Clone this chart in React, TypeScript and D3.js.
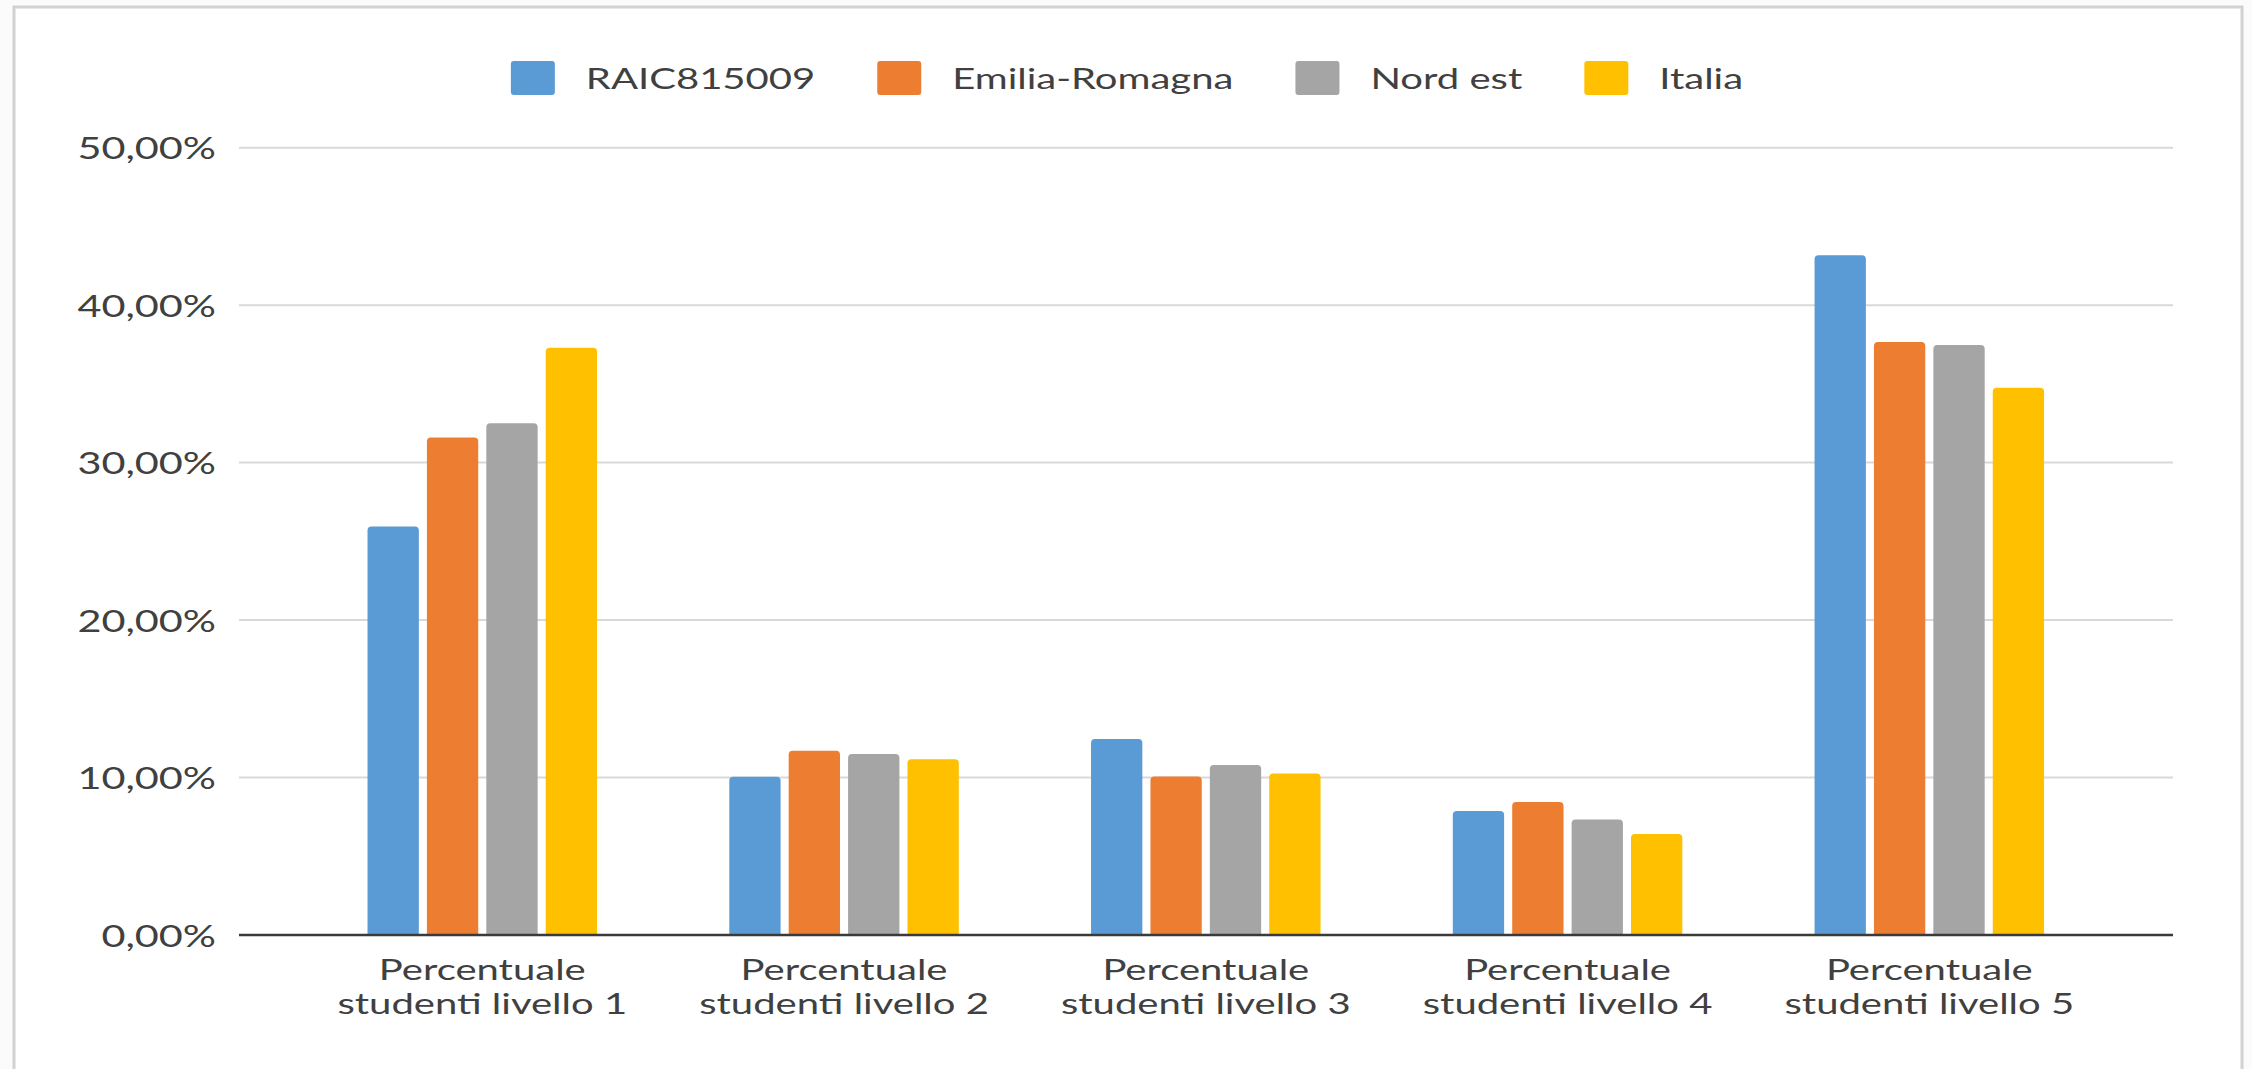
import React, { useEffect, useRef } from "react";
import * as d3 from "d3";

const categories = [
  "Percentuale studenti livello 1",
  "Percentuale studenti livello 2",
  "Percentuale studenti livello 3",
  "Percentuale studenti livello 4",
  "Percentuale studenti livello 5",
];
const seriesNames = ["RAIC815009", "Emilia-Romagna", "Nord est", "Italia"];
const raic = [0.2595, 0.1005, 0.1245, 0.0787, 0.4317];
const emiliaRomagna = [0.316, 0.117, 0.1007, 0.0845, 0.3766];
const nordEst = [0.325, 0.115, 0.108, 0.0733, 0.3747];
const italia = [0.373, 0.1116, 0.1026, 0.0642, 0.3476];
const seriesValues = [raic, emiliaRomagna, nordEst, italia];
const yTicks = [0, 0.1, 0.2, 0.3, 0.4, 0.5];
const colors = ["#5B9BD5", "#ED7D31", "#A5A5A5", "#FFC000"];

const W = 2252;
const H = 1069;
const SX = 1.38; // horizontal stretch of the text in the reference
const FONT = "Lato, 'Open Sans', sans-serif";
const TEXT = "#404040";

function topRoundedRect(x: number, y: number, w: number, h: number, r: number) {
  const rr = Math.min(r, h, w / 2);
  return `M${x},${y + h}V${y + rr}Q${x},${y} ${x + rr},${y}H${x + w - rr}Q${x + w},${y} ${x + w},${y + rr}V${y + h}Z`;
}

export default function App() {
  const ref = useRef<SVGSVGElement | null>(null);

  useEffect(() => {
    document.body.style.margin = "0";
    const svg = d3.select(ref.current);
    svg.selectAll("*").remove();

    const locale = d3.formatLocale({
      decimal: ",",
      thousands: ".",
      grouping: [3],
      currency: ["€", ""],
    });
    const fmt = locale.format(".2%");

    const plotLeft = 239;
    const plotRight = 2173;
    const y = d3.scaleLinear().domain([0, 0.5]).range([935, 147.7]);
    const x0 = d3.scaleBand<string>().domain(categories).range([301.4, 2110.2]).padding(0);
    const groupW = 237.6;
    const x1 = d3
      .scaleBand<string>()
      .domain(seriesNames)
      .range([-groupW / 2, groupW / 2])
      .paddingInner(0.136)
      .paddingOuter(0.068);

    // frame
    svg
      .append("rect")
      .attr("x", 0)
      .attr("y", 0)
      .attr("width", W)
      .attr("height", H)
      .attr("fill", "#fbfbfb");
    svg
      .append("rect")
      .attr("x", 14)
      .attr("y", 7)
      .attr("width", 2228)
      .attr("height", 1090)
      .attr("fill", "#ffffff")
      .attr("stroke", "#d2d2d2")
      .attr("stroke-width", 3);

    // gridlines
    svg
      .append("g")
      .selectAll("line")
      .data(yTicks.filter((t) => t > 0))
      .join("line")
      .attr("x1", plotLeft)
      .attr("x2", plotRight)
      .attr("y1", (d) => y(d))
      .attr("y2", (d) => y(d))
      .attr("stroke", "#d9d9d9")
      .attr("stroke-width", 2);

    // y labels
    svg
      .append("g")
      .selectAll("text")
      .data(yTicks)
      .join("text")
      .attr("transform", (d) => `translate(216,${y(d)}) scale(${SX},1)`)
      .attr("text-anchor", "end")
      .attr("dominant-baseline", "central")
      .attr("font-family", FONT)
      .attr("font-size", 30)
      .attr("fill", TEXT)
      .text((d) => fmt(d));

    // bars
    const gBars = svg.append("g");
    categories.forEach((c, ci) => {
      const cx = (x0(c) as number) + x0.bandwidth() / 2;
      seriesNames.forEach((s, si) => {
        const v = seriesValues[si][ci];
        const bx = cx + (x1(s) as number);
        gBars
          .append("path")
          .attr("d", topRoundedRect(bx, y(v), x1.bandwidth(), y(0) - y(v), 4))
          .attr("fill", colors[si]);
      });
    });

    // baseline
    svg
      .append("line")
      .attr("x1", plotLeft)
      .attr("x2", plotRight)
      .attr("y1", y(0))
      .attr("y2", y(0))
      .attr("stroke", "#3a3a3a")
      .attr("stroke-width", 2.5);

    // x labels
    const gx = svg.append("g");
    categories.forEach((c) => {
      const cx = (x0(c) as number) + x0.bandwidth() / 2;
      const idx = c.indexOf(" ");
      const lines = [c.slice(0, idx), c.slice(idx + 1)];
      lines.forEach((ln, li) => {
        gx.append("text")
          .attr("transform", `translate(${cx},${980 + li * 34}) scale(${SX},1)`)
          .attr("text-anchor", "middle")
          .attr("font-family", FONT)
          .attr("font-size", 29)
          .attr("fill", TEXT)
          .text(ln);
      });
    });

    // legend
    const gl = svg.append("g");
    const sq = 44;
    const sqH = 34;
    const gapText = 31;
    const gapItem = 62;
    const items = seriesNames.map((s, i) => {
      const g = gl.append("g");
      g.append("rect")
        .attr("x", 0)
        .attr("y", 78 - sqH / 2)
        .attr("width", sq)
        .attr("height", sqH)
        .attr("rx", 3)
        .attr("fill", colors[i]);
      const t = g
        .append("text")
        .attr("font-family", FONT)
        .attr("font-size", 29)
        .attr("fill", TEXT)
        .attr("dominant-baseline", "central")
        .text(s);
      const tw = (t.node() as SVGTextElement).getComputedTextLength() * SX;
      t.attr("transform", `translate(${sq + gapText},78) scale(${SX},1)`);
      return { g, w: sq + gapText + tw };
    });
    const total = d3.sum(items, (d) => d.w) + gapItem * (items.length - 1);
    let cur = 1127 - total / 2;
    items.forEach((it) => {
      it.g.attr("transform", `translate(${cur},0)`);
      cur += it.w + gapItem;
    });
  }, []);

  return (
    <svg
      ref={ref}
      width={W}
      height={H}
      style={{ position: "absolute", left: 0, top: 0, display: "block" }}
    />
  );
}
